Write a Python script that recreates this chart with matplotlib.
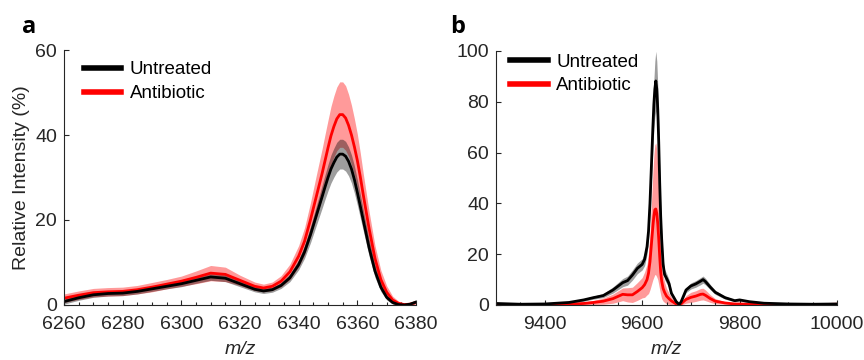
"""Mass spectra: untreated vs antibiotic, mean with std band."""

import numpy as np
import matplotlib
matplotlib.use("Agg")
import matplotlib.pyplot as plt
from matplotlib.ticker import MultipleLocator

plt.rcParams["font.family"] = ["Liberation Sans", "DejaVu Sans"]

# Panel a: 6260-6380 m/z
mz_a = [6260, 6265, 6270, 6275, 6280, 6285, 6290, 6295, 6300, 6305, 6310,
        6315, 6320, 6325, 6328, 6331, 6334, 6337, 6340, 6342, 6344, 6346,
        6348, 6349, 6350, 6351, 6352, 6353, 6354, 6355, 6356, 6357, 6358,
        6359, 6360, 6361, 6362, 6364, 6366, 6368,
        6370, 6372, 6374, 6376, 6378, 6380]
untr_a = [0.8, 1.7, 2.4, 2.7, 2.8, 3.2, 3.8, 4.4, 5.0, 5.8, 6.6,
          6.3, 5.0, 3.7, 3.3, 3.6, 4.6, 6.4, 9.5, 12.5, 16.5, 21.0,
          25.5, 27.8, 30.0, 32.0, 33.5, 34.8, 35.5, 35.5, 35.0, 33.8, 32.0,
          29.5, 26.5, 23.3, 20.0, 13.5, 8.0, 4.2,
          1.8, 0.6, 0.1, 0.0, 0.2, 0.7]
untr_a_sd = [0.6, 0.6, 0.6, 0.6, 0.6, 0.6, 0.6, 0.6, 0.7, 0.7, 0.8,
             0.8, 0.7, 0.6, 0.6, 0.6, 0.7, 0.9, 1.2, 1.5, 1.9, 2.3,
             2.7, 2.9, 3.1, 3.3, 3.4, 3.5, 3.5, 3.5, 3.5, 3.4, 3.3,
             3.2, 3.0, 2.8, 2.5, 2.0, 1.5, 1.0,
             0.6, 0.4, 0.2, 0.2, 0.2, 0.3]
anti_a = [1.6, 2.3, 2.9, 3.1, 3.2, 3.6, 4.2, 4.9, 5.6, 6.5, 7.5,
          7.2, 5.8, 4.4, 4.0, 4.4, 5.6, 7.8, 11.5, 15.0, 20.0, 25.5,
          31.0, 34.0, 37.0, 39.8, 42.0, 43.8, 44.8, 44.8, 44.0, 42.3, 40.0,
          37.2, 34.0, 30.2, 26.0, 18.0, 11.0, 6.0,
          3.0, 1.2, 0.4, 0.1, 0.2, 0.6]
anti_a_sd = [1.0, 1.0, 1.0, 1.0, 1.0, 1.0, 1.1, 1.1, 1.2, 1.5, 1.8,
             1.7, 1.2, 1.0, 0.9, 1.0, 1.3, 1.8, 2.5, 3.2, 4.0, 5.0,
             5.8, 6.2, 6.5, 6.9, 7.2, 7.5, 7.7, 7.7, 7.6, 7.3, 7.0,
             6.6, 6.2, 5.6, 5.0, 4.0, 3.0, 2.2,
             1.5, 0.9, 0.5, 0.3, 0.3, 0.3]

# Panel b: 9300-10000 m/z
mz_b = [9300, 9350, 9400, 9450, 9480, 9500, 9520, 9540, 9560, 9570, 9580,
        9590, 9600, 9605, 9610, 9613, 9616, 9619, 9622, 9624, 9626, 9628,
        9630, 9632, 9634, 9636, 9638, 9640, 9643, 9646,
        9650, 9655, 9660, 9670, 9676, 9680, 9690, 9700, 9710, 9720, 9725,
        9730, 9740, 9750, 9770, 9790, 9800, 9820, 9850, 9900, 9950, 10000]
untr_b = [0.6, 0.3, 0.4, 1.0, 2.0, 2.9, 3.7, 5.9, 8.8, 9.6, 11.8,
          14.4, 16.0, 18.0, 23.0, 29.0, 40.0, 55.0, 70.0, 79.0, 85.0, 88.2,
          85.0, 77.0, 64.0, 48.0, 35.0, 26.0, 16.0, 12.0,
          10.5, 8.5, 4.6, 1.3, 0.2, 1.3, 5.9, 7.5, 8.3, 9.4, 10.0,
          9.2, 7.0, 5.0, 2.9, 1.7, 2.0, 1.3, 0.7, 0.4, 0.3, 0.4]
untr_b_sd = [0.3, 0.3, 0.3, 0.4, 0.5, 0.6, 0.8, 1.2, 1.6, 1.8, 2.0,
             2.1, 2.2, 2.5, 3.0, 3.5, 4.5, 6.0, 8.0, 9.5, 11.0, 11.7,
             11.0, 9.5, 7.5, 5.5, 4.0, 3.0, 2.2, 2.0,
             2.0, 1.6, 1.0, 0.5, 0.2, 0.5, 1.0, 1.2, 1.3, 1.4, 1.4,
             1.3, 1.0, 0.8, 0.6, 0.4, 0.4, 0.4, 0.3, 0.3, 0.3, 0.3]
anti_b = [0.2, 0.1, 0.1, 0.3, 0.6, 1.0, 1.5, 2.5, 4.2, 4.0, 4.0,
          5.3, 6.8, 8.0, 10.0, 12.5, 17.0, 24.0, 31.0, 35.0, 37.5, 37.8,
          36.0, 32.0, 26.0, 19.0, 13.0, 9.5, 6.5, 5.0,
          3.5, 2.5, 1.6, 0.4, 0.1, 0.5, 2.2, 3.0, 3.5, 4.2, 4.3,
          3.8, 2.5, 1.5, 0.8, 0.4, 0.4, 0.3, 0.2, 0.1, 0.1, 0.3]
anti_b_sd = [0.2, 0.2, 0.2, 0.4, 0.6, 0.8, 1.2, 1.8, 2.5, 2.8, 3.0,
             3.5, 4.0, 5.0, 6.0, 8.0, 11.0, 16.0, 21.0, 24.0, 25.5, 26.0,
             25.0, 22.0, 18.0, 13.0, 9.0, 7.0, 5.0, 4.0,
             3.0, 2.2, 1.5, 0.5, 0.1, 0.5, 1.5, 2.0, 2.1, 2.3, 2.3,
             2.1, 1.5, 1.0, 0.5, 0.3, 0.3, 0.2, 0.2, 0.2, 0.2, 0.2]

AX_COL = "#262626"
FS = 14


def draw(ax, x, m1, s1, m2, s2):
    x = np.asarray(x)
    m1, s1, m2, s2 = map(np.asarray, (m1, s1, m2, s2))
    ax.fill_between(x, m2 - s2, m2 + s2, color="#ff2020", alpha=0.45, lw=0)
    ax.fill_between(x, m1 - s1, m1 + s1, color="black", alpha=0.38, lw=0)
    ax.plot(x, m2, color="red", lw=2)
    ax.plot(x, m1, color="black", lw=2)
    # legend proxies with thick lines
    h1, = ax.plot([], [], color="black", lw=4, label="Untreated")
    h2, = ax.plot([], [], color="red", lw=4, label="Antibiotic")
    ax.spines["top"].set_visible(False)
    ax.spines["right"].set_visible(False)
    for sp in ("left", "bottom"):
        ax.spines[sp].set_color(AX_COL)
        ax.spines[sp].set_linewidth(0.8)
    ax.tick_params(which="both", direction="in", colors=AX_COL,
                   labelsize=FS, width=0.8)
    ax.tick_params(which="major", length=3.5)
    ax.tick_params(axis="x", which="major", pad=8)
    ax.tick_params(axis="y", which="major", pad=5)
    ax.tick_params(which="minor", length=2.5)
    ax.set_xlabel("m/z", fontsize=FS, fontstyle="italic", color=AX_COL,
                  labelpad=6)
    return [h1, h2]


fig = plt.figure(figsize=(8.64, 3.6), dpi=100)
ax_a = fig.add_axes([0.0741, 0.1528, 0.4074, 0.7083])
ax_b = fig.add_axes([0.5741, 0.1528, 0.3947, 0.7056])

hs = draw(ax_a, mz_a, untr_a, untr_a_sd, anti_a, anti_a_sd)
ax_a.set_xlim(6260, 6380)
ax_a.set_ylim(0, 60)
ax_a.xaxis.set_major_locator(MultipleLocator(20))
ax_a.xaxis.set_minor_locator(MultipleLocator(5))
ax_a.yaxis.set_major_locator(MultipleLocator(20))
ax_a.set_ylabel("Relative Intensity (%)", fontsize=FS, color=AX_COL,
                labelpad=4)
ax_a.legend(handles=hs, loc="upper left", frameon=False, fontsize=13.5,
            handlelength=2.0, handletextpad=0.45, labelspacing=0.35,
            borderaxespad=0, bbox_to_anchor=(0.035, 0.985))

hs = draw(ax_b, mz_b, untr_b, untr_b_sd, anti_b, anti_b_sd)
ax_b.set_xlim(9300, 10000)
ax_b.set_ylim(0, 100)
ax_b.xaxis.set_major_locator(MultipleLocator(200))
ax_b.xaxis.set_minor_locator(MultipleLocator(50))
ax_b.yaxis.set_major_locator(MultipleLocator(20))
ax_b.legend(handles=hs, loc="upper left", frameon=False, fontsize=13.5,
            handlelength=2.0, handletextpad=0.45, labelspacing=0.35,
            borderaxespad=0, bbox_to_anchor=(0.02, 1.02))

fig.text(0.034, 0.925, "a", fontsize=17, fontweight="bold",
         family=["Open Sans", "DejaVu Sans"], va="center", ha="center")
fig.text(0.530, 0.925, "b", fontsize=17, fontweight="bold",
         family=["Open Sans", "DejaVu Sans"], va="center", ha="center")

fig.savefig("out.png", dpi=100)
